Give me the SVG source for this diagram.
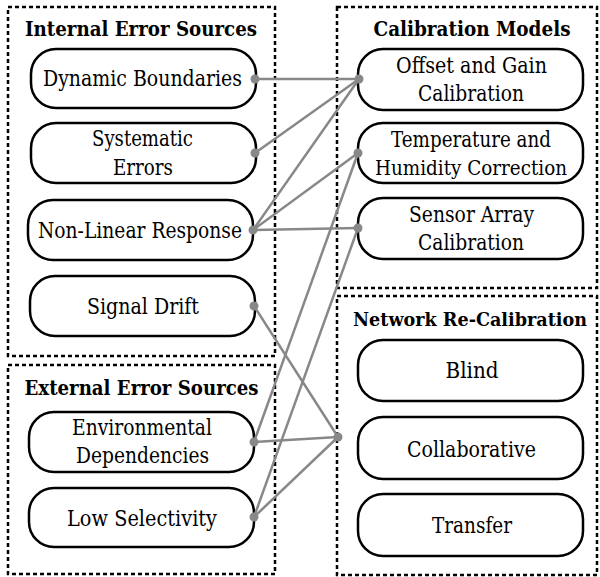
<svg xmlns="http://www.w3.org/2000/svg" width="600" height="577" viewBox="0 0 600 577">
<style>
.grp{fill:none;stroke:#000;stroke-width:2.5;stroke-dasharray:4 3}
.node rect{fill:#fff;stroke:#000;stroke-width:2.5}
text{font-family:'DejaVu Serif','Liberation Serif',serif;font-size:22px;fill:#000;text-anchor:middle}
.title{font-weight:bold;font-size:21px}
.conn line{stroke:#888;stroke-width:2.5}
.conn circle{fill:#888}
</style>
<rect width="600" height="577" fill="#fff"/>
<g id="group-internal">
<rect class="grp" x="8" y="7" width="267" height="349"/>
<text class="title" x="141" y="36" textLength="232" lengthAdjust="spacingAndGlyphs">Internal Error Sources</text>
</g>
<g id="group-external">
<rect class="grp" x="8" y="365" width="267" height="209"/>
<text class="title" x="141.5" y="395" textLength="234" lengthAdjust="spacingAndGlyphs">External Error Sources</text>
</g>
<g id="group-calibration">
<rect class="grp" x="337" y="7" width="260" height="281"/>
<text class="title" x="472" y="36" textLength="197" lengthAdjust="spacingAndGlyphs">Calibration Models</text>
</g>
<g id="group-network">
<rect class="grp" x="337" y="296" width="260" height="279"/>
<text class="title" x="470" y="326" style="font-size:19px" textLength="234" lengthAdjust="spacingAndGlyphs">Network Re-Calibration</text>
</g>
<g id="n-dynamic" class="node"><rect x="31" y="49" width="225" height="59" rx="25"/><text x="142.5" y="86" textLength="199" lengthAdjust="spacingAndGlyphs">Dynamic Boundaries</text></g>
<g id="n-systematic" class="node"><rect x="31" y="123" width="225" height="60" rx="25"/><text x="142.5" y="146" textLength="101" lengthAdjust="spacingAndGlyphs">Systematic</text><text x="143" y="175" textLength="60" lengthAdjust="spacingAndGlyphs">Errors</text></g>
<g id="n-nonlinear" class="node"><rect x="28" y="200" width="225" height="60" rx="25"/><text x="140" y="238" textLength="204" lengthAdjust="spacingAndGlyphs">Non-Linear Response</text></g>
<g id="n-drift" class="node"><rect x="30" y="276" width="225" height="60" rx="25"/><text x="143" y="314" textLength="112" lengthAdjust="spacingAndGlyphs">Signal Drift</text></g>
<g id="n-env" class="node"><rect x="29" y="412" width="225" height="60" rx="25"/><text x="142" y="435" textLength="140" lengthAdjust="spacingAndGlyphs">Environmental</text><text x="142.5" y="463" textLength="133" lengthAdjust="spacingAndGlyphs">Dependencies</text></g>
<g id="n-lowsel" class="node"><rect x="29" y="488" width="225" height="59" rx="25"/><text x="142" y="526" textLength="150" lengthAdjust="spacingAndGlyphs">Low Selectivity</text></g>
<g id="n-offset" class="node"><rect x="358" y="49" width="225" height="61" rx="25"/><text x="471.5" y="73" textLength="151" lengthAdjust="spacingAndGlyphs">Offset and Gain</text><text x="471" y="101" textLength="106" lengthAdjust="spacingAndGlyphs">Calibration</text></g>
<g id="n-temp" class="node"><rect x="358" y="123" width="225" height="60" rx="25"/><text x="471" y="147" textLength="160" lengthAdjust="spacingAndGlyphs">Temperature and</text><text x="471" y="175" style="font-size:20px" textLength="192" lengthAdjust="spacingAndGlyphs">Humidity Correction</text></g>
<g id="n-sensor" class="node"><rect x="358" y="198" width="225" height="61" rx="25"/><text x="471.5" y="222" textLength="125" lengthAdjust="spacingAndGlyphs">Sensor Array</text><text x="471" y="250" textLength="106" lengthAdjust="spacingAndGlyphs">Calibration</text></g>
<g id="n-blind" class="node"><rect x="358" y="340" width="225" height="61" rx="25"/><text x="472" y="378" textLength="53" lengthAdjust="spacingAndGlyphs">Blind</text></g>
<g id="n-collab" class="node"><rect x="358" y="417" width="225" height="62" rx="25"/><text x="471.5" y="457" textLength="129" lengthAdjust="spacingAndGlyphs">Collaborative</text></g>
<g id="n-transfer" class="node"><rect x="358" y="494" width="225" height="62" rx="25"/><text x="472" y="533" textLength="80" lengthAdjust="spacingAndGlyphs">Transfer</text></g>
<g id="connectors" class="conn">
<line x1="255" y1="79" x2="359" y2="79"/>
<line x1="255" y1="153" x2="359" y2="79"/>
<line x1="253" y1="230" x2="359" y2="79"/>
<line x1="253" y1="230" x2="358" y2="153"/>
<line x1="253" y1="230" x2="358" y2="228"/>
<line x1="254" y1="442" x2="358" y2="153"/>
<line x1="254" y1="517" x2="358" y2="228"/>
<line x1="254" y1="306" x2="338" y2="437"/>
<line x1="254" y1="442" x2="338" y2="437"/>
<line x1="254" y1="517" x2="338" y2="437"/>
<circle cx="255" cy="79" r="4.5"/>
<circle cx="255" cy="153" r="4.5"/>
<circle cx="253" cy="230" r="4.5"/>
<circle cx="254" cy="306" r="4.5"/>
<circle cx="254" cy="442" r="4.5"/>
<circle cx="254" cy="517" r="4.5"/>
<circle cx="359" cy="79" r="4.5"/>
<circle cx="358" cy="153" r="4.5"/>
<circle cx="358" cy="228" r="4.5"/>
<circle cx="338" cy="437" r="4.5"/>
</g>
</svg>
